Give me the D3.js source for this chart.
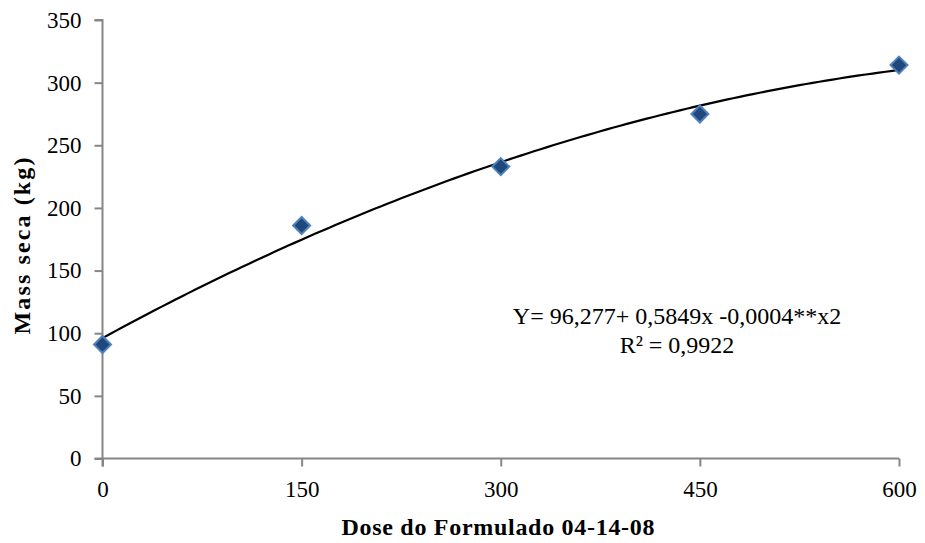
<!DOCTYPE html>
<html>
<head>
<meta charset="utf-8">
<script src="https://cdn.jsdelivr.net/npm/d3@7"></script>
<style>
  body { margin: 0; background: #fff; }
  text { font-family: "Liberation Serif", "Times New Roman", serif; }
</style>
</head>
<body>
<div id="chart"></div>
<script>
var doses = [0, 150, 300, 450, 600];
var massa = [91, 186, 233, 275, 314];
var xTicks = [0, 150, 300, 450, 600];
var yTicks = [0, 50, 100, 150, 200, 250, 300, 350];
var eqLines = ["Y= 96,277+ 0,5849x -0,0004**x2", "R\u00b2 = 0,9922"];

var W = 925, H = 543;
var margin = { top: 20, right: 26, bottom: 84.5, left: 102.5 },
  width = W - margin.left - margin.right,
  height = H - margin.top - margin.bottom;

var svg = d3.select("#chart").append("svg")
  .attr("width", W)
  .attr("height", H)
  .append("g")
  .attr("transform", "translate(" + margin.left + "," + margin.top + ")");

var x = d3.scaleLinear().domain([0, 600]).range([0, width]);
var y = d3.scaleLinear().domain([0, 350]).range([height, 0]);

// axes
var yAxis = svg.append("g")
  .call(d3.axisLeft(y).tickValues(yTicks).tickSize(8).tickPadding(13));
var xAxis = svg.append("g")
  .attr("transform", "translate(0," + height + ")")
  .call(d3.axisBottom(x).tickValues(xTicks).tickSize(8).tickPadding(14));

[xAxis, yAxis].forEach(function(a) {
  a.select(".domain").attr("stroke", "#868686").attr("stroke-width", 2);
  a.selectAll(".tick line").attr("stroke", "#868686").attr("stroke-width", 2);
  a.selectAll(".tick text")
    .style("font-family", "'Liberation Serif', serif")
    .style("font-size", "23px")
    .attr("fill", "#000");
});
yAxis.select(".domain").attr("d", "M0," + (height + 8) + "V0H-8");
xAxis.select(".domain").attr("d", "M-8,0H" + width);

// least squares quadratic trendline from the points
function fitQuad(xs, ys) {
  var s = [0, 0, 0, 0, 0], t = [0, 0, 0];
  xs.forEach(function(xv, i) {
    for (var k = 0; k < 5; k++) s[k] += Math.pow(xv, k);
    for (var k2 = 0; k2 < 3; k2++) t[k2] += Math.pow(xv, k2) * ys[i];
  });
  var A = [[s[0], s[1], s[2], t[0]], [s[1], s[2], s[3], t[1]], [s[2], s[3], s[4], t[2]]];
  for (var i = 0; i < 3; i++) {
    for (var j = i + 1; j < 3; j++) {
      var f = A[j][i] / A[i][i];
      for (var k = i; k < 4; k++) A[j][k] -= f * A[i][k];
    }
  }
  var c = [0, 0, 0];
  for (var i2 = 2; i2 >= 0; i2--) {
    var sum = A[i2][3];
    for (var k3 = i2 + 1; k3 < 3; k3++) sum -= A[i2][k3] * c[k3];
    c[i2] = sum / A[i2][i2];
  }
  return c;
}
var coef = fitQuad(doses, massa);
var trend = d3.range(0, 601, 5).map(function(d) {
  return [d, coef[0] + coef[1] * d + coef[2] * d * d];
});

svg.append("path")
  .datum(trend)
  .attr("fill", "none")
  .attr("stroke", "#000")
  .attr("stroke-width", 2.2)
  .attr("d", d3.line()
    .x(function(d) { return x(d[0]); })
    .y(function(d) { return y(d[1]); }));

// diamond markers
svg.selectAll(".pt")
  .data(doses)
  .enter().append("path")
  .attr("class", "pt")
  .attr("transform", function(d, i) { return "translate(" + x(d) + "," + y(massa[i]) + ")"; })
  .attr("d", "M0,-8.5L8.5,0L0,8.5L-8.5,0Z")
  .attr("fill", "#1F497D")
  .attr("stroke", "#4F81BD")
  .attr("stroke-width", 2);

// equation
svg.selectAll(".eq")
  .data(eqLines)
  .enter().append("text")
  .attr("class", "eq")
  .attr("x", 677 - margin.left)
  .attr("y", function(d, i) { return 324 - margin.top + i * 29; })
  .attr("text-anchor", "middle")
  .style("font-size", "24px")
  .text(function(d) { return d; });

// axis titles
svg.append("text")
  .attr("x", 498 - margin.left)
  .attr("y", 535 - margin.top)
  .attr("text-anchor", "middle")
  .attr("textLength", 313)
  .style("font-size", "24px")
  .style("font-weight", "bold")
  .text("Dose do Formulado  04-14-08");

svg.append("text")
  .attr("transform", "translate(" + (30 - margin.left) + "," + (246 - margin.top) + ") rotate(-90)")
  .attr("text-anchor", "middle")
  .attr("textLength", 177)
  .style("font-size", "24px")
  .style("font-weight", "bold")
  .text("Mass seca (kg)");
</script>
</body>
</html>
